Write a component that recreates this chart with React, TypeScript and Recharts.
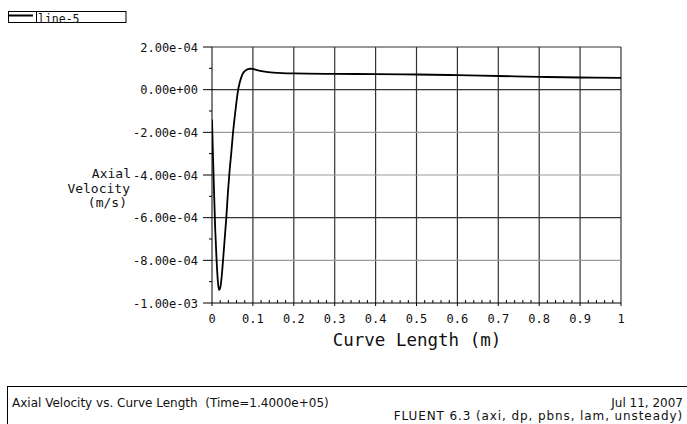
import React from 'react';
import { LineChart, Line, XAxis, YAxis, ReferenceLine } from 'recharts';

// curve length along the line (m)
const curveLength = [
  0, 0.002, 0.005, 0.008, 0.011, 0.014, 0.017, 0.02, 0.024, 0.027, 0.031, 0.035,
  0.039, 0.043, 0.047, 0.051, 0.056, 0.06, 0.064, 0.068, 0.072, 0.077, 0.082,
  0.088, 0.094, 0.1, 0.11, 0.125, 0.15, 0.2, 0.3, 0.4, 0.5, 0.6, 0.7, 0.8, 0.9, 1.0,
];

// axial velocity (m/s)
const axialVelocity = [
  -1.4e-4, -2.8e-4, -4.8e-4, -6.6e-4, -7.9e-4, -8.9e-4, -9.4e-4, -9.3e-4, -8.7e-4,
  -8.0e-4, -7.0e-4, -6.0e-4, -4.8e-4, -3.8e-4, -3.0e-4, -2.1e-4, -1.2e-4, -0.55e-4,
  0.0, 0.35e-4, 0.6e-4, 0.8e-4, 0.9e-4, 0.96e-4, 0.98e-4, 0.97e-4, 0.92e-4, 0.86e-4,
  0.8e-4, 0.76e-4, 0.74e-4, 0.73e-4, 0.71e-4, 0.68e-4, 0.64e-4, 0.6e-4, 0.57e-4, 0.55e-4,
];

const xMajorTicks = [0, 0.1, 0.2, 0.3, 0.4, 0.5, 0.6, 0.7, 0.8, 0.9, 1];
const xTickLabels = ['0', '0.1', '0.2', '0.3', '0.4', '0.5', '0.6', '0.7', '0.8', '0.9', '1'];

const yMajorTicks = [-1e-3, -8e-4, -6e-4, -4e-4, -2e-4, 0, 2e-4];
const yTickLabels = ['-1.00e-03', '-8.00e-04', '-6.00e-04', '-4.00e-04', '-2.00e-04', '0.00e+00', '2.00e-04'];

// horizontal grid rows that print lighter
const lightRows = [-8e-4, -4e-4, -2e-4];

const data = curveLength.map((x, i) => ({ x, v: axialVelocity[i] }));

// minor ticks: 4 between x majors, 1 between y majors
const xMinorTicks: number[] = [];
xMajorTicks.slice(1).forEach((t, i) => {
  const prev = xMajorTicks[i];
  for (let k = 1; k < 5; k++) xMinorTicks.push(prev + ((t - prev) * k) / 5);
});
const yMinorTicks = yMajorTicks.slice(1).map((t, i) => (t + yMajorTicks[i]) / 2);

const xAllTicks = [...xMajorTicks, ...xMinorTicks].sort((a, b) => a - b);
const yAllTicks = [...yMajorTicks, ...yMinorTicks].sort((a, b) => a - b);

const near = (a: number, b: number, eps: number) => Math.abs(a - b) < eps;
const FONT = '"DejaVu Sans Mono", monospace';
const SANS = '"DejaVu Sans", sans-serif';

const XTick = (props: any) => {
  const { x, y, payload } = props;
  const idx = xMajorTicks.findIndex((t) => near(t, payload.value, 1e-6));
  if (idx < 0) {
    return <line x1={x} x2={x} y1={y} y2={y - 3} stroke="#000" strokeWidth={1} />;
  }
  return (
    <g>
      <line x1={x} x2={x} y1={y} y2={y + 3} stroke="#000" strokeWidth={1} />
      <text x={x} y={y + 20} textAnchor="middle" fontFamily={FONT} fontSize={12} fill="#111">
        {xTickLabels[idx]}
      </text>
    </g>
  );
};

const YTick = (props: any) => {
  const { x, y, payload } = props;
  const idx = yMajorTicks.findIndex((t) => near(t, payload.value, 1e-9));
  if (idx < 0) {
    return <line x1={x} x2={x - 3} y1={y} y2={y} stroke="#000" strokeWidth={1} />;
  }
  return (
    <g>
      <line x1={x} x2={x - 9} y1={y} y2={y} stroke="#000" strokeWidth={1} />
      <text x={x - 14} y={y + 4.5} textAnchor="end" fontFamily={FONT} fontSize={12} fill="#111">
        {yTickLabels[idx]}
      </text>
    </g>
  );
};

export default function App() {
  return (
    <div style={{ position: 'absolute', left: 0, top: 0, width: 687, height: 424, background: '#fff' }}>
      <LineChart width={687} height={424} data={data} margin={{ top: 47, right: 66, left: 0, bottom: 61 }}>
        <XAxis
          dataKey="x"
          type="number"
          domain={[0, 1]}
          ticks={xAllTicks}
          interval={0}
          tickSize={0}
          tickMargin={0}
          height={60}
          tickLine={false}
          axisLine={{ stroke: '#000', strokeWidth: 1 }}
          tick={XTick}
          allowDataOverflow
        />
        <YAxis
          type="number"
          domain={[-1e-3, 2e-4]}
          ticks={yAllTicks}
          interval={0}
          tickSize={0}
          tickMargin={0}
          width={212}
          tickLine={false}
          axisLine={{ stroke: '#000', strokeWidth: 1 }}
          tick={YTick}
          allowDataOverflow
        />
        {xMajorTicks.slice(1).map((t) => (
          <ReferenceLine key={'gx' + t} x={t} stroke="#333" strokeWidth={1.2} ifOverflow="visible" />
        ))}
        {yMajorTicks.slice(1).map((t) => (
          <ReferenceLine
            key={'gy' + t}
            y={t}
            stroke={lightRows.some((r) => near(r, t, 1e-9)) ? '#9a9a9a' : '#333'}
            strokeWidth={1.2}
            ifOverflow="visible"
          />
        ))}
        <Line
          type="monotone"
          dataKey="v"
          stroke="#000"
          strokeWidth={1.8}
          dot={false}
          isAnimationActive={false}
        />
      </LineChart>

      <svg
        width={687}
        height={424}
        style={{ position: 'absolute', left: 0, top: 0, pointerEvents: 'none' }}
      >
        {/* legend box */}
        <rect x={8.5} y={11.5} width={117.5} height={11} fill="none" stroke="#000" strokeWidth={1} />
        <line x1={36.5} x2={36.5} y1={11.5} y2={22.5} stroke="#000" strokeWidth={1} />
        <line x1={9} x2={33} y1={15.5} y2={15.5} stroke="#000" strokeWidth={2} />
        <text x={38} y={22.5} fontFamily={FONT} fontSize={11.5} fill="#111">line-5</text>

        {/* axis titles */}
        <text x={131} y={178} fontFamily={FONT} fontSize={13} fill="#111" textAnchor="end">Axial</text>
        <text x={130} y={192.5} fontFamily={FONT} fontSize={13} fill="#111" textAnchor="end">Velocity</text>
        <text x={127} y={207} fontFamily={FONT} fontSize={13} fill="#111" textAnchor="end">(m/s)</text>
        <text x={417} y={346} fontFamily={FONT} fontSize={17.5} fill="#111" textAnchor="middle">
          Curve Length (m)
        </text>

        {/* footer */}
        <rect x={7.5} y={386.5} width={700} height={60} fill="none" stroke="#000" strokeWidth={1} />
        <text x={12} y={407} fontFamily={SANS} fontSize={12} fill="#111">
          Axial Velocity vs. Curve Length{'\u00a0\u00a0'}(Time=1.4000e+05)
        </text>
        <text x={683} y={407} fontFamily={SANS} fontSize={12} fill="#111" textAnchor="end">
          Jul 11, 2007
        </text>
        <text
          x={683}
          y={420}
          fontFamily={SANS}
          fontSize={12}
          fill="#111"
          textAnchor="end"
          letterSpacing={0.9}
        >
          FLUENT 6.3 (axi, dp, pbns, lam, unsteady)
        </text>
      </svg>
    </div>
  );
}
